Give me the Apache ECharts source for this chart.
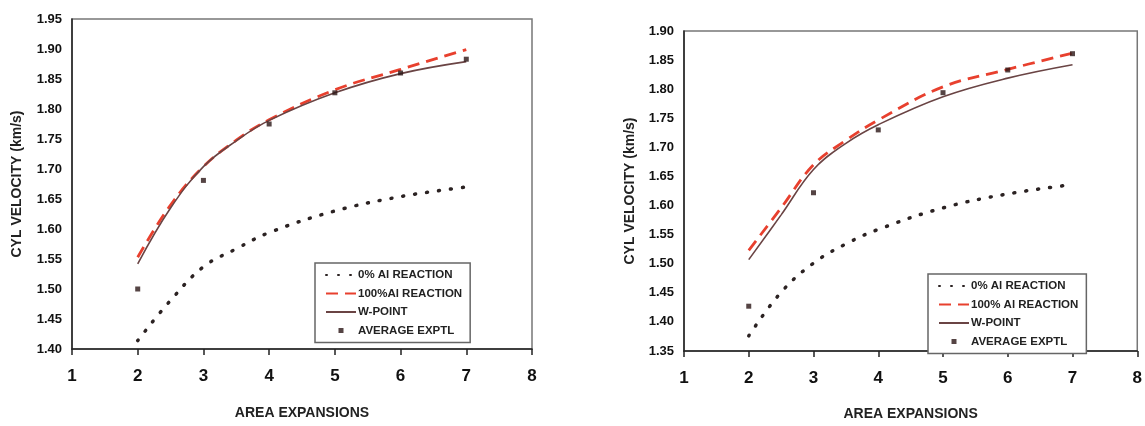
<!DOCTYPE html>
<html>
<head>
<meta charset="utf-8">
<script src="https://cdn.jsdelivr.net/npm/echarts@6/dist/echarts.min.js"></script>
<style>html,body{margin:0;padding:0;background:#fff;}#c{width:1145px;height:426px;}</style>
</head>
<body>
<div id="c"></div>
<script>
// ---- data ----
const xTicks = [1, 2, 3, 4, 5, 6, 7, 8];
const xCurve = [2, 2.5, 3, 3.5, 4, 5, 6, 7];
const xExp = [2, 3, 4, 5, 6, 7];

// left chart
const leftAl0   = [1.414, 1.481, 1.537, 1.567, 1.594, 1.630, 1.654, 1.670];
const leftAl100 = [1.553, 1.640, 1.704, 1.748, 1.782, 1.832, 1.866, 1.899];
const leftWPt   = [1.542, 1.635, 1.704, 1.747, 1.781, 1.827, 1.859, 1.879];
const leftExp   = [1.500, 1.681, 1.775, 1.827, 1.860, 1.883];

// right chart
const rightAl0   = [1.376, 1.451, 1.501, 1.534, 1.559, 1.596, 1.620, 1.636];
const rightAl100 = [1.523, 1.596, 1.670, 1.712, 1.747, 1.804, 1.834, 1.862];
const rightWPt   = [1.507, 1.584, 1.662, 1.707, 1.739, 1.787, 1.819, 1.842];
const rightExp   = [1.427, 1.622, 1.730, 1.794, 1.833, 1.861];

const names = ['0% Al REACTION', '100%Al REACTION', 'W-POINT', 'AVERAGE EXPTL'];
const namesRight = ['0% Al REACTION ', '100% Al REACTION', 'W-POINT ', 'AVERAGE EXPTL '];

const FONT = '"Liberation Sans", Arial, sans-serif';
const C0 = '#2b2222', C100 = '#e8402e', CW = '#6a4444', CX = '#2a1515';
const pair = (xs, ys) => xs.map((x, i) => [x, ys[i]]);

function xAxis(gi) {
  return {
    type: 'value', gridIndex: gi, min: 1, max: 8, interval: 1,
    name: 'AREA EXPANSIONS', nameLocation: 'middle', nameGap: gi === 0 ? 57 : 56,
    nameTextStyle: { fontFamily: FONT, fontWeight: 'bold', fontSize: 14, color: '#222' },
    axisLine: { lineStyle: { color: '#222', width: 1.5 } },
    axisTick: { show: true, inside: false, length: 6, lineStyle: { color: '#222', width: 1.5 } },
    axisLabel: { fontFamily: FONT, fontWeight: 'bold', fontSize: 17, color: '#111', margin: 19,
                 formatter: v => xTicks.includes(v) ? String(v) : '' },
    splitLine: { show: false }
  };
}
function yAxis(gi, mn, mx) {
  return {
    type: 'value', gridIndex: gi, min: mn, max: mx, interval: 0.05,
    name: 'CYL VELOCITY (km/s)', nameLocation: 'middle', nameGap: gi === 0 ? 48 : 47,
    nameTextStyle: { fontFamily: FONT, fontWeight: 'bold', fontSize: 14, color: '#222' },
    axisLine: { lineStyle: { color: '#222', width: 1.5 } },
    axisTick: { show: false },
    axisLabel: { fontFamily: FONT, fontWeight: 'bold', fontSize: 13, color: '#111', margin: 10,
                 formatter: v => v.toFixed(2) },
    splitLine: { show: false }
  };
}
function seriesSet(gi, nm, a0, a100, w, ex) {
  return [
    { name: nm[0], type: 'line', xAxisIndex: gi, yAxisIndex: gi, data: pair(xCurve, a0), smooth: 0.4,
      symbol: 'none', itemStyle: { color: C0 },
      lineStyle: { color: C0, width: 3.5, type: [1, 11], cap: 'round' }, z: 2 },
    { name: nm[1], type: 'line', xAxisIndex: gi, yAxisIndex: gi, data: pair(xCurve, a100), smooth: 0.4,
      symbol: 'none', itemStyle: { color: C100 },
      lineStyle: { color: C100, width: 2.8, type: [12, 7] }, z: 3 },
    { name: nm[2], type: 'line', xAxisIndex: gi, yAxisIndex: gi, data: pair(xCurve, w), smooth: 0.4,
      symbol: 'none', itemStyle: { color: CW },
      lineStyle: { color: CW, width: 1.6 }, z: 4 },
    { name: nm[3], type: 'scatter', xAxisIndex: gi, yAxisIndex: gi, data: pair(xExp, ex),
      symbol: 'rect', symbolSize: 5, itemStyle: { color: CX }, z: 5 }
  ];
}
function legend(nm, left, top) {
  return {
    orient: 'vertical', left: left, top: top,
    data: nm.map((n, i) => i === 3
      ? { name: n, icon: 'path://M0,0h10v10h-10z', itemStyle: { color: CX } }
      : { name: n, itemStyle: { opacity: 0 } }),
    itemWidth: 30, itemHeight: 5, itemGap: 6.5, symbolKeepAspect: true,
    padding: [6, 8, 6, 10],
    borderColor: '#666', borderWidth: 1.5, backgroundColor: '#fff',
    textStyle: { fontFamily: FONT, fontWeight: 'bold', fontSize: 11.5, color: '#222', padding: [0, 0, 0, -3] },
    selectedMode: false
  };
}

const chart = echarts.init(document.getElementById('c'), null, { renderer: 'canvas' });
chart.setOption({
  animation: false,
  backgroundColor: '#fff',
  grid: [
    { left: 72, top: 19, width: 460, height: 330, show: true, borderColor: '#777', borderWidth: 1.5, backgroundColor: 'transparent' },
    { left: 684, top: 31, width: 459, height: 331, show: true, borderColor: '#777', borderWidth: 1.5, backgroundColor: 'transparent' }
  ],
  xAxis: [xAxis(0), xAxis(1)],
  yAxis: [yAxis(0, 1.40, 1.95), yAxis(1, 1.35, 1.90)],
  legend: [legend(names, 315, 263), legend(namesRight, 928, 274)],
  series: [].concat(
    seriesSet(0, names, leftAl0, leftAl100, leftWPt, leftExp),
    seriesSet(1, namesRight, rightAl0, rightAl100, rightWPt, rightExp)
  )
});
</script>
</body>
</html>
